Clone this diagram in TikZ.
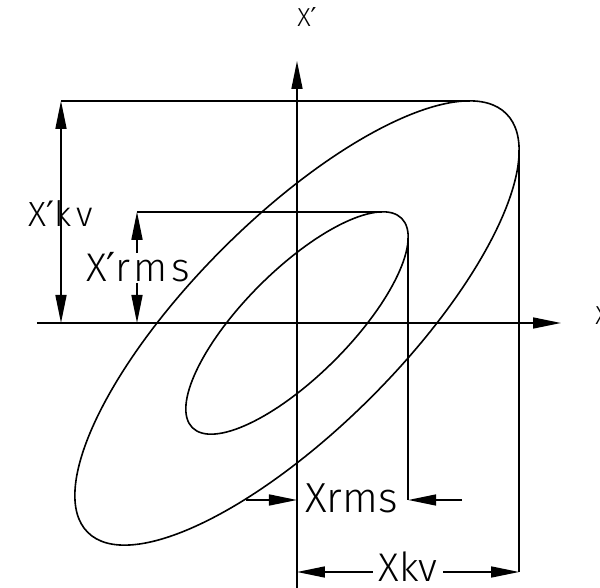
\documentclass[tikz,border=0pt]{standalone}
\usepackage{fontspec}
\setmainfont{Fira Sans Light}
\newfontfamily\primefont{DejaVu Sans}
\newcommand\myprime{{\primefont ′}}
\usetikzlibrary{arrows.meta}
\begin{document}
\begin{tikzpicture}[x=1pt,y=1pt, line width=1.6pt,
  tipE/.style={-{Triangle[length=28pt,width=11pt]}},
  tipB/.style={{Triangle[length=28pt,width=11pt]}-{Triangle[length=28pt,width=11pt]}},
  lbl/.style={inner sep=0pt, anchor=base}]
\useasboundingbox (-297,-265) rectangle (303,323);
% axes
\coordinate (O) at (0,0);
\coordinate (hl) at (-260,0);
\coordinate (hr) at (264,0);
\coordinate (vb) at (0,-266);
\coordinate (vt) at (0,262);
\draw[tipE] (hl) -- (hr);
\draw[tipE] (vb) -- (vt);
\node[lbl, font=\fontsize{26}{26}\selectfont] (xp) at (10,296) {X\myprime};
\node[lbl, font=\fontsize{26}{26}\selectfont] (xx) at (305,-2) {X};
% ellipses
\draw[rotate=45] (O) ellipse [x radius=296pt, y radius=105pt];
\draw[rotate=45] (O) ellipse [x radius=148pt, y radius=53pt];
% tangent points
\coordinate (ot) at (172.5,222.1);
\coordinate (or) at (222.1,172.5);
\coordinate (it) at (85,111.2);
\coordinate (ir) at (111.2,85);
% X'kv dimension
\coordinate (A) at (-236,222.1);
\coordinate (A0) at (-236,0);
\draw (A) -- (ot);
\draw[tipB] (A) -- (A0);
\node[lbl, font=\fontsize{35}{35}\selectfont\addfontfeatures{LetterSpace=15}] (xkvp) at (-236,96) {X\myprime kv};
% X'rms dimension
\coordinate (B) at (-160,111.2);
\coordinate (B1) at (-160,70);
\coordinate (B2) at (-160,40);
\coordinate (B0) at (-160,0);
\draw (B) -- (it);
\draw[tipE] (B1) -- (B);
\draw[tipE] (B2) -- (B0);
\node[lbl, font=\fontsize{40}{40}\selectfont\addfontfeatures{LetterSpace=8}] (xrmsp) at (-159,41) {X\myprime rms};
% Xrms dimension
\coordinate (E) at (111.2,-177);
\coordinate (E0) at (0,-177);
\coordinate (El) at (-51,-177);
\coordinate (Er) at (165,-177);
\draw (ir) -- (E);
\draw[tipE] (El) -- (E0);
\draw[tipE] (Er) -- (E);
\node[lbl, font=\fontsize{42}{42}\selectfont] (xrms) at (54.5,-190) {Xrms};
% Xkv dimension
\coordinate (C) at (222.1,-249);
\coordinate (D) at (0,-249);
\coordinate (Dl) at (76,-249);
\coordinate (Dr) at (146,-249);
\draw (or) -- (C);
\draw[tipE] (Dl) -- (D);
\draw[tipE] (Dr) -- (C);
\node[lbl, font=\fontsize{40}{40}\selectfont] (xkv) at (111,-259) {Xkv};
\end{tikzpicture}
\end{document}
